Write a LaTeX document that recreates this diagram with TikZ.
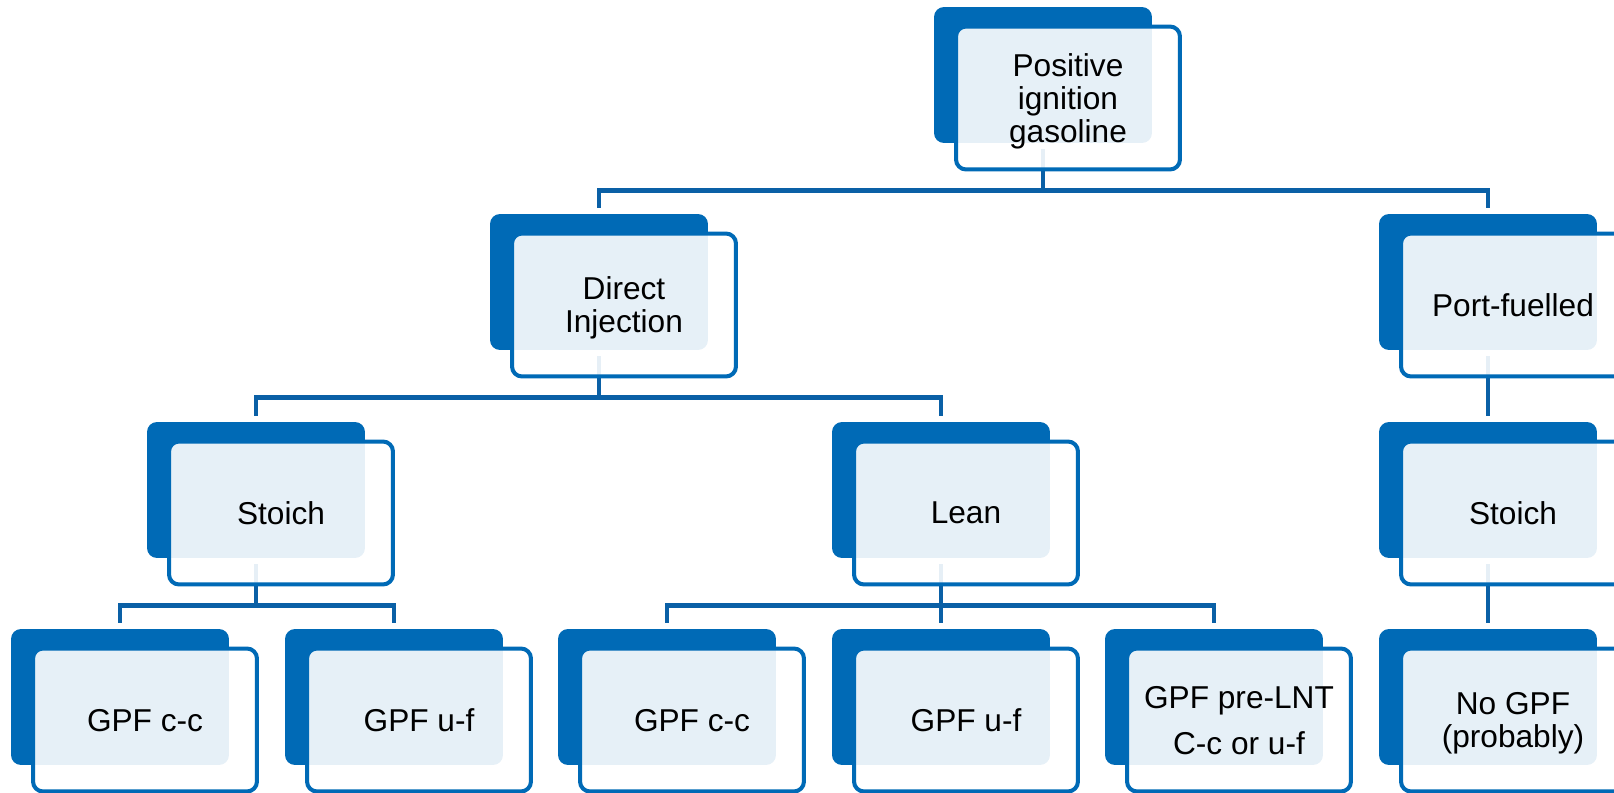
\documentclass[tikz,border=0pt]{standalone}
\usepackage{fontspec}
\setmainfont{Liberation Sans}
\usepackage{tikz}
\definecolor{boxblue}{RGB}{0, 106, 182}
\definecolor{linkblue}{RGB}{10, 96, 166}

\tikzset{
  backbox/.style={fill=boxblue, rounded corners=0.2cm, minimum width=4.36cm, minimum height=2.72cm, inner sep=0pt},
  frontbox/.style={draw=boxblue, line width=0.08cm, fill=white, fill opacity=0.9, text opacity=1,
    rounded corners=0.2cm, minimum width=4.48cm, minimum height=2.86cm, inner sep=0pt, text depth=0pt,
    align=center, font=\fontsize{18}{18.8}\selectfont},
  link/.style={draw=linkblue, line width=0.09cm, shorten <=0.12cm, shorten >=0.12cm}
}

\begin{document}
\begin{tikzpicture}[x=0.02cm, y=-0.02cm]
  \useasboundingbox (0,0) rectangle (1614,792);

  % Dunkle Hinterkarten
  \foreach \n/\x/\y in {pig/1043/75, di/599/282, pf/1488/282,
                        sa/256/490, le/941/490, sb/1488/490,
                        ca/120/697, ua/394/697, cb/667/697, ub/941/697, lnt/1214/697, no/1488/697} {
    \node[backbox] (b\n) at (\x,\y) {};
  }

  % Verbindungen
  \draw[link] (bpig.south) -- ++(0,47) -| (bdi.north);
  \draw[link] (bpig.south) -- ++(0,47) -| (bpf.north);
  \draw[link] (bdi.south) -- ++(0,47) -| (bsa.north);
  \draw[link] (bdi.south) -- ++(0,47) -| (ble.north);
  \draw[link] (bpf.south) -- (bsb.north);
  \draw[link] (bsa.south) -- ++(0,47) -| (bca.north);
  \draw[link] (bsa.south) -- ++(0,47) -| (bua.north);
  \draw[link] (ble.south) -- ++(0,47) -| (bcb.north);
  \draw[link] (ble.south) -- (bub.north);
  \draw[link] (ble.south) -- ++(0,47) -| (blnt.north);
  \draw[link] (bsb.south) -- (bno.north);

  % Helle Vorderkarten mit Text
  \foreach \n/\t in {pig/{Positive\\ignition\\gasoline}, di/{Direct\\Injection}, pf/Port-fuelled,
                     sa/Stoich, le/Lean, sb/Stoich,
                     ca/GPF c-c, ua/GPF u-f, cb/GPF c-c, ub/GPF u-f,
                     lnt/{GPF pre-LNT\\[7.4pt]C-c or u-f}, no/{No GPF\\(probably)}} {
    \node[frontbox] (f\n) at ([xshift=0.5cm, yshift=-0.46cm]b\n.center) {\t};
  }
\end{tikzpicture}
\end{document}
